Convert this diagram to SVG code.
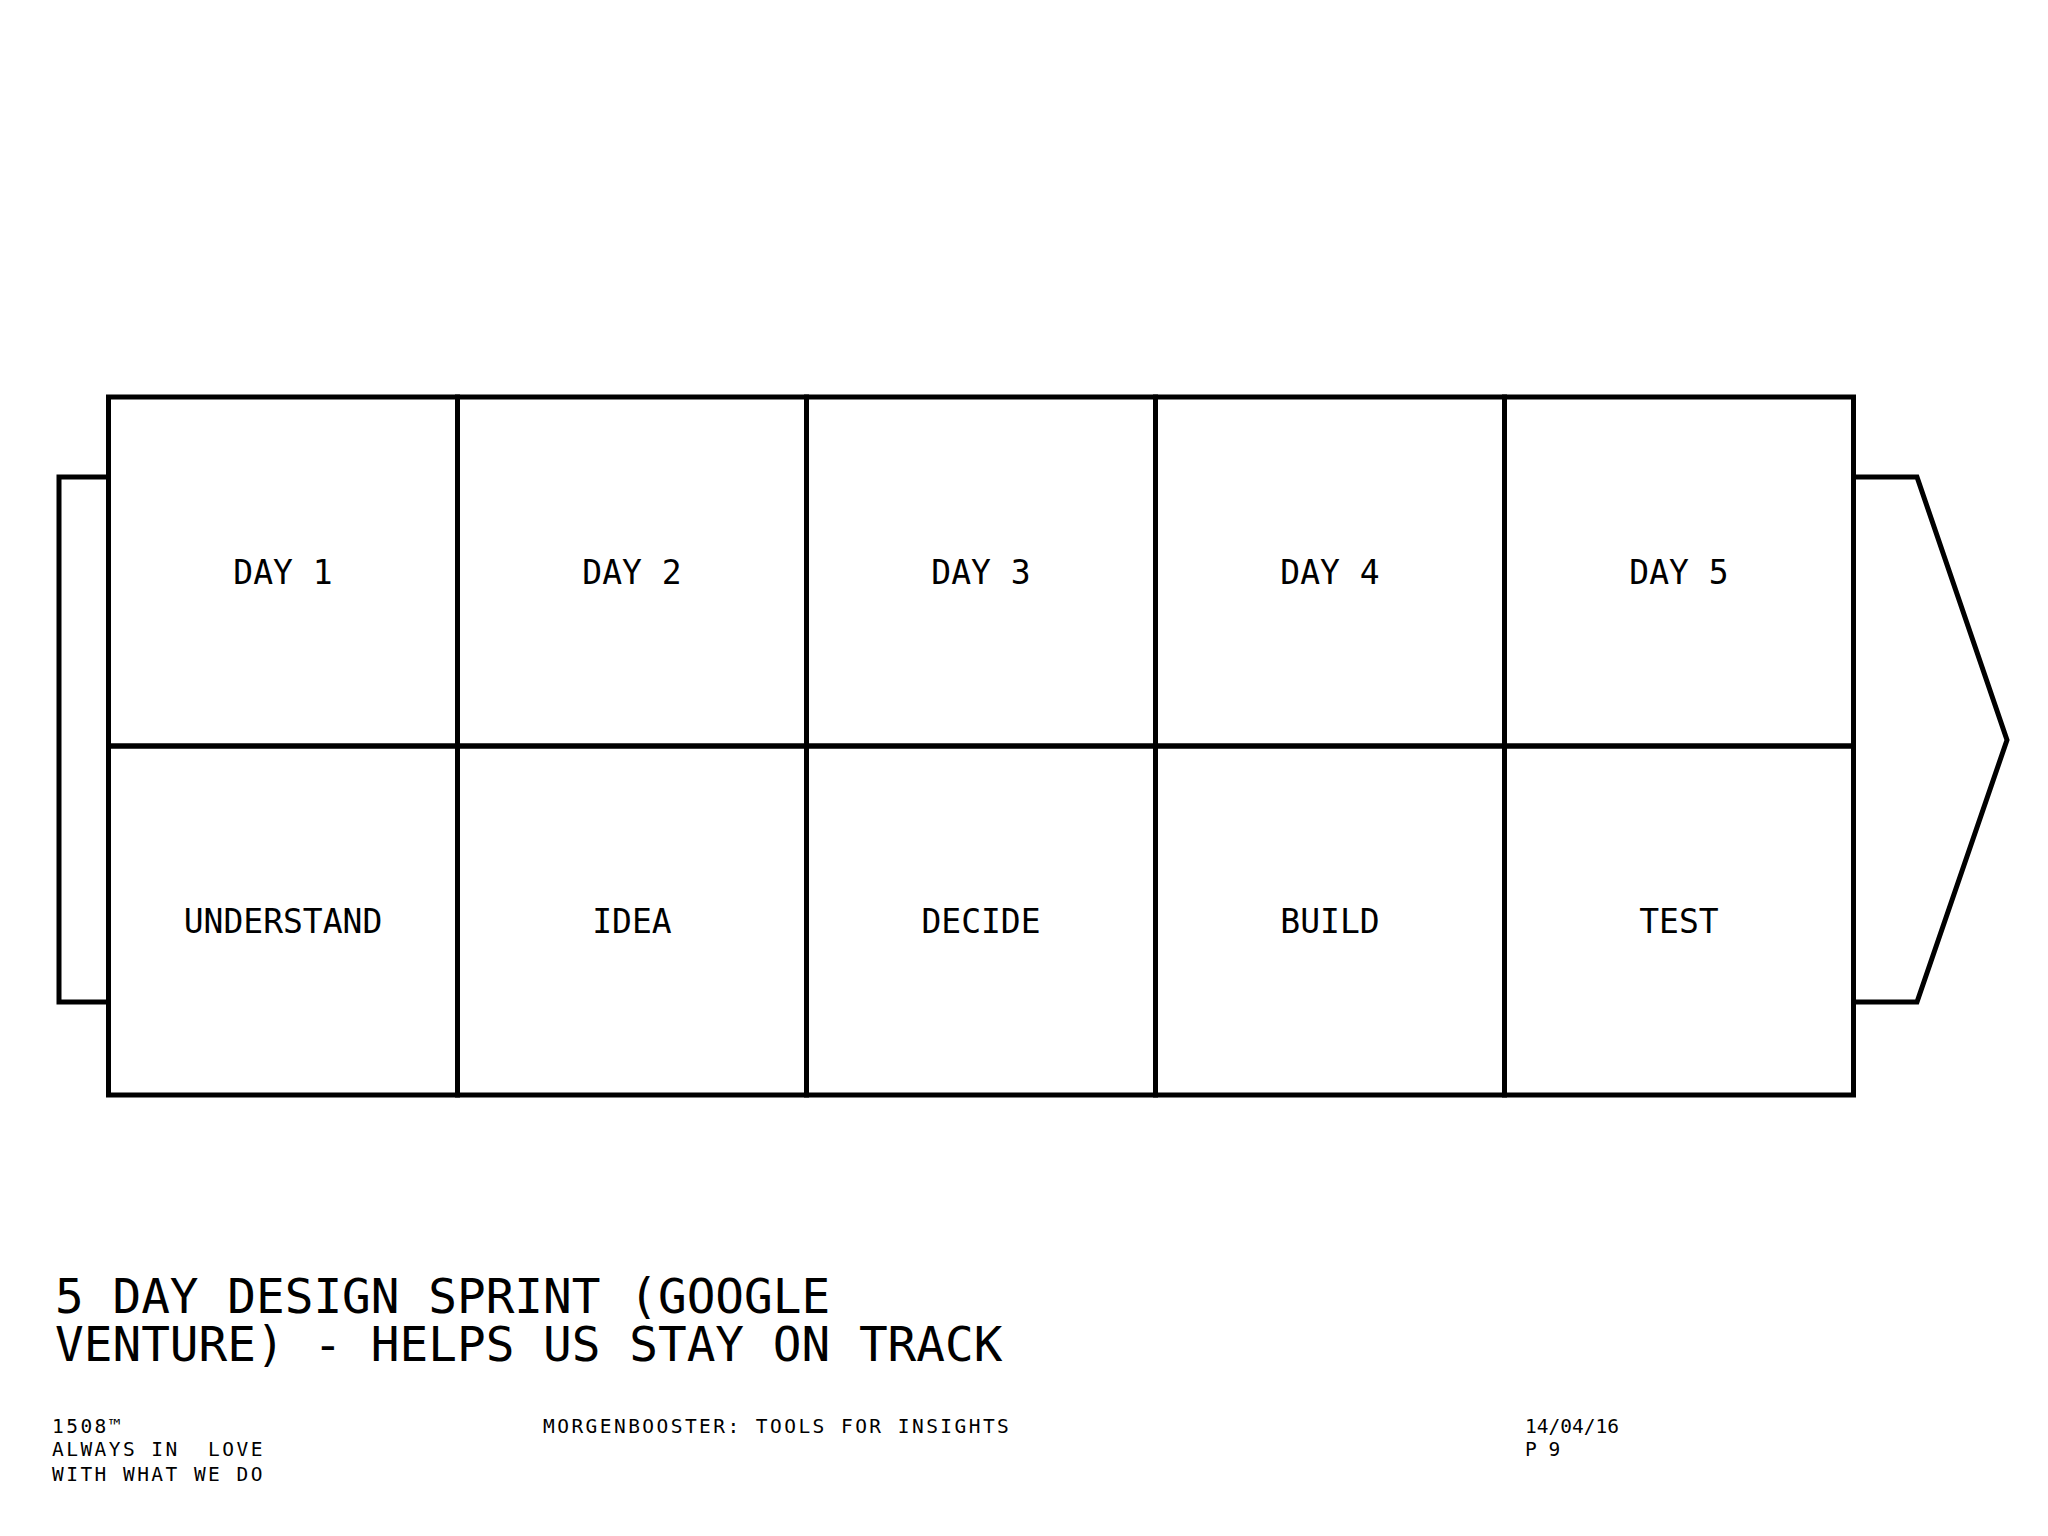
<svg xmlns="http://www.w3.org/2000/svg" width="2048" height="1536" viewBox="0 0 2048 1536">
<style>
.ln{fill:none;stroke:#000;stroke-width:5;stroke-linejoin:miter;stroke-linecap:square}
.cell{fill:none;stroke:#000;stroke-width:5}
.lbl{font-family:"DejaVu Sans Mono","Liberation Mono",monospace;font-size:33px;fill:#000;text-anchor:middle}
.title{font-family:"DejaVu Sans Mono","Liberation Mono",monospace;font-size:47.7px;fill:#000}
.foot{font-family:"DejaVu Sans Mono","Liberation Mono",monospace;font-size:19.5px;fill:#000;letter-spacing:2.45px;white-space:pre}
.date{font-family:"DejaVu Sans Mono","Liberation Mono",monospace;font-size:19.5px;fill:#000;letter-spacing:0px;white-space:pre}
</style>
<rect width="2048" height="1536" fill="#fff"/>
<g id="connectors">
<polyline class="ln" points="108.5,477 59,477 59,1002 108.5,1002"/>
<polyline class="ln" points="1853.5,477 1917,477 2007,740 1917,1002 1853.5,1002"/>
</g>
<g id="day1"><rect class="cell" x="108.5" y="397" width="349" height="349"/><text class="lbl" x="283" y="584">DAY 1</text></g>
<g id="day2"><rect class="cell" x="457.5" y="397" width="349" height="349"/><text class="lbl" x="632" y="584">DAY 2</text></g>
<g id="day3"><rect class="cell" x="806.5" y="397" width="349" height="349"/><text class="lbl" x="981" y="584">DAY 3</text></g>
<g id="day4"><rect class="cell" x="1155.5" y="397" width="349" height="349"/><text class="lbl" x="1330" y="584">DAY 4</text></g>
<g id="day5"><rect class="cell" x="1504.5" y="397" width="349" height="349"/><text class="lbl" x="1679" y="584">DAY 5</text></g>
<g id="understand"><rect class="cell" x="108.5" y="746" width="349" height="349"/><text class="lbl" x="283" y="933">UNDERSTAND</text></g>
<g id="idea"><rect class="cell" x="457.5" y="746" width="349" height="349"/><text class="lbl" x="632" y="933">IDEA</text></g>
<g id="decide"><rect class="cell" x="806.5" y="746" width="349" height="349"/><text class="lbl" x="981" y="933">DECIDE</text></g>
<g id="build"><rect class="cell" x="1155.5" y="746" width="349" height="349"/><text class="lbl" x="1330" y="933">BUILD</text></g>
<g id="test"><rect class="cell" x="1504.5" y="746" width="349" height="349"/><text class="lbl" x="1679" y="933">TEST</text></g>
<g id="title">
<text class="title" x="55" y="1313">5 DAY DESIGN SPRINT (GOOGLE</text>
<text class="title" x="55" y="1361">VENTURE) - HELPS US STAY ON TRACK</text>
</g>
<g id="footer">
<text class="foot" x="52" y="1433">1508™</text>
<text class="foot" x="52" y="1456">ALWAYS IN  LOVE</text>
<text class="foot" x="52" y="1481">WITH WHAT WE DO</text>
<text class="foot" x="543" y="1433">MORGENBOOSTER: TOOLS FOR INSIGHTS</text>
<text class="date" x="1525" y="1433">14/04/16</text>
<text class="date" x="1525" y="1456">P 9</text>
</g>
</svg>
